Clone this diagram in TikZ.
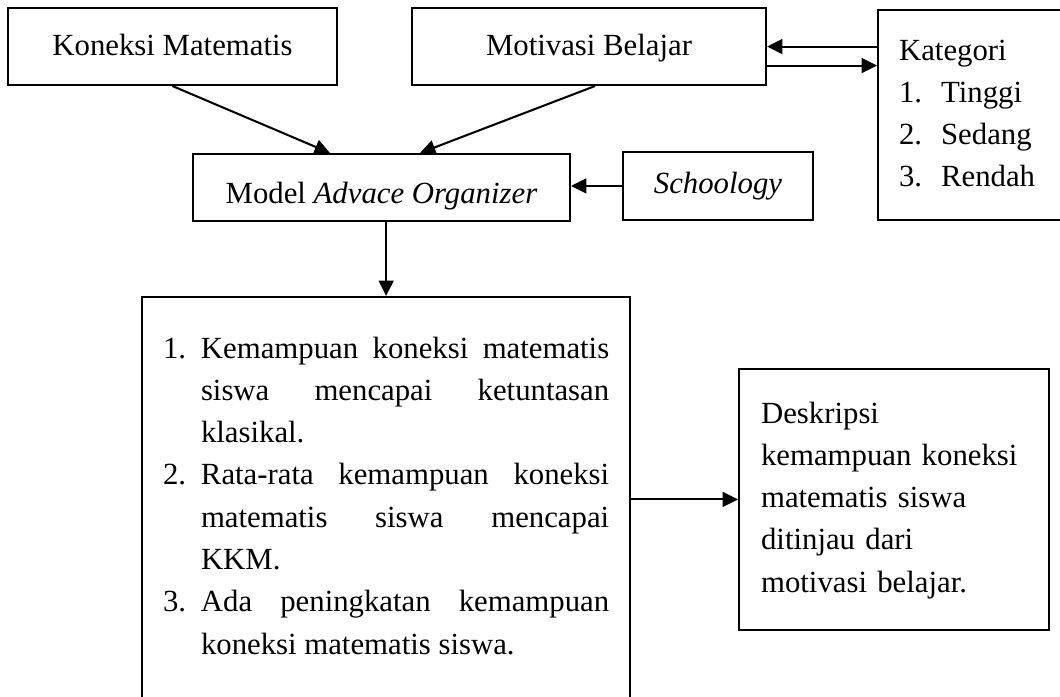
\documentclass[tikz,border=0pt]{standalone}
\usepackage{fontspec}
\setmainfont{Liberation Serif}
\usepackage{tikz}
\usetikzlibrary{arrows.meta}
\usetikzlibrary{calc}
\tikzset{box/.style = {draw, line width = 0.8pt, inner sep = 0, anchor = base}}
\tikzset{arr/.style = {line width = 0.8pt, -{Triangle[length = 6pt, width = 5.8pt]}}}
\tikzset{txt/.style = {box, anchor = base west, align = justify}}

\begin{document}
\begin{tikzpicture}[x=0.39pt, y=-0.39pt, font=\fontsize{12}{16.5}\selectfont]
    \useasboundingbox (0, 0) rectangle (1060, 696);

    \node [box, minimum width = 128.3pt, text height = 18.3pt, text depth = 11.7pt] (kon) at (172.5, 55) {Koneksi Matematis};
    \node [box, minimum width = 138.1pt, text height = 18.3pt, text depth = 11.7pt] (mot) at (589, 55) {Motivasi Belajar};
    \node [box, minimum width = 147pt, text height = 19.1pt, text depth = 7pt] (model) at (381.5, 203) {Model \textit{Advace Organizer}};
    \node [box, minimum width = 74.1pt, text height = 16pt, text depth = 10.5pt] (sch) at (718, 193) {\textit{Schoology}};

    \node [txt, inner xsep = 8.2pt, text width = 70pt, text height = 19.5pt, text depth = 62.4pt] (kat) at (877, 60)
        {Kategori\\ \makebox[16.4pt][l]{1.}Tinggi\\ \makebox[16.4pt][l]{2.}Sedang\\ \makebox[16.4pt][l]{3.}Rendah};

    \node [txt, inner xsep = 8.2pt, text width = 174pt, text height = 23.8pt, text depth = 141.2pt] (big) at (141, 358)
        {\tolerance=10000 \hbadness=10000 \hyphenpenalty=10000 \exhyphenpenalty=10000 \parskip=0pt
         \hangindent=14.8pt \hangafter=1 \makebox[14.8pt][l]{1.}Kemampuan koneksi matematis\linebreak siswa mencapai ketuntasan\linebreak klasikal.\par
         \hangindent=14.8pt \hangafter=1 \noindent\makebox[14.8pt][l]{2.}Rata-rata kemampuan koneksi\linebreak matematis siswa mencapai\linebreak KKM.\par
         \hangindent=14.8pt \hangafter=1 \noindent\makebox[14.8pt][l]{3.}Ada peningkatan kemampuan\linebreak koneksi matematis siswa.\par};

    \node [txt, align = left, inner xsep = 8.6pt, text width = 103.7pt, text height = 21.1pt, text depth = 80.7pt] (desk) at (738, 423)
        {Deskripsi\\ kemampuan koneksi\\ matematis siswa\\ ditinjau dari\\ motivasi belajar.};

    \draw [arr] (kon.south) -- ($(model.north) + (-51.5, 0)$);
    \draw [arr] ($(mot.south) + (6, 0)$) -- ($(model.north) + (38.5, 0)$);
    \draw [arr] (kat.west |- mot.east) -- (mot.east);
    \draw [arr] ($(mot.east) + (0, 19)$) -- ($(kat.west |- mot.east) + (0, 19)$);
    \draw [arr] (sch.west) -- (sch.west -| model.east);
    \draw [arr] (model.south -| big.north) -- (big.north);
    \draw [arr] (big.east |- desk.west) -- (desk.west);
  \end{tikzpicture}
\end{document}
